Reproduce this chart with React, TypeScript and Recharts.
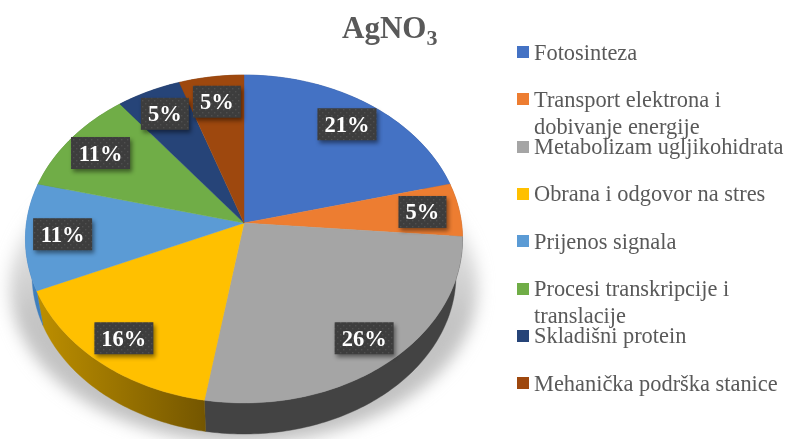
import React from "react";
import { PieChart, Pie, Legend } from "recharts";

const categories = [
  "Fotosinteza",
  "Transport elektrona i dobivanje energije",
  "Metabolizam ugljikohidrata",
  "Obrana i odgovor na stres",
  "Prijenos signala",
  "Procesi transkripcije i translacije",
  "Skladišni protein",
  "Mehanička podrška stanice",
];
const counts = [4, 1, 5, 3, 2, 2, 1, 1];
const faceColors = ["#4472c4", "#ed7d31", "#a5a5a5", "#ffc000", "#5b9bd5", "#70ad47", "#264478", "#9e480e"];
const wallColors = ["#2f528f", "#b25d25", "#434343", "url(#yellowWall)", "#3f7fbd", "#548235", "#1c3359", "#76360a"];

const data = categories.map((name, i) => ({ name, value: counts[i], fill: faceColors[i], wall: wallColors[i] }));
const wallData = data.map((d) => ({ ...d, fill: d.wall }));
const total = counts.reduce((a, b) => a + b, 0);
const shadowData = [{ name: "shadow", value: total, fill: "url(#shadowFill)" }];

const B = 217.5;
const A = 162.4;
const K = 0.0976;
const RAD = Math.PI / 180;
const GREY = "#595959";
const SERIF = "'Liberation Serif', serif";

function rim(cx: number, cy: number, deg: number, f = 1) {
  const u = Math.cos(deg * RAD);
  const v = -Math.sin(deg * RAD);
  const d = 1 - K * v;
  return { x: cx + (B * u * f) / d, y: cy + (A * v * f) / d };
}

function lower(cx: number, cy: number, p: { x: number; y: number }) {
  const ex = cx + 0.5;
  const ey = cy + 16;
  return { x: ex + (p.x - ex) * 0.97, y: ey + (p.y - ey) * 0.97 + 36 };
}

function arc(cx: number, cy: number, start: number, end: number) {
  const n = Math.max(2, Math.ceil(Math.abs(end - start)));
  const pts = [];
  for (let i = 0; i <= n; i++) pts.push(rim(cx, cy, start + ((end - start) * i) / n));
  return pts;
}

const toPath = (pts: { x: number; y: number }[]) =>
  "M" + pts.map((p) => `${p.x.toFixed(2)},${p.y.toFixed(2)}`).join("L") + "Z";

function FaceShape(props: any) {
  const { cx, cy, startAngle, endAngle, fill } = props;
  const pts = [{ x: cx, y: cy }, ...arc(cx, cy, startAngle, endAngle)];
  return <path d={toPath(pts)} fill={fill} stroke={fill} strokeWidth={0.4} />;
}

function WallShape(props: any) {
  const { cx, cy, startAngle, endAngle, fill } = props;
  const top = arc(cx, cy, startAngle, endAngle);
  const bottom = top.map((p) => lower(cx, cy, p)).reverse();
  return <path d={toPath([...top, ...bottom])} fill={fill} stroke={fill} strokeWidth={0.4} />;
}

function ShadowShape(props: any) {
  const { cx, cy, startAngle, endAngle, fill } = props;
  const ex = cx + 0.5;
  const ey = cy + 16;
  const pts = arc(cx, cy, startAngle, endAngle).map((p) => ({
    x: ex + (p.x - ex) * 1.07,
    y: ey + 48 + (p.y - ey) * 0.95,
  }));
  return (
    <g>
      <defs>
        <linearGradient id="yellowWall" x1="0" y1="0" x2="1" y2="0">
          <stop offset="0%" stopColor="#bd8f00" />
          <stop offset="100%" stopColor="#745600" />
        </linearGradient>
        <linearGradient id="shadowFill" x1="0" y1="0" x2="0" y2="1">
          <stop offset="0%" stopColor="#c8c8c8" stopOpacity={0} />
          <stop offset="35%" stopColor="#c8c8c8" stopOpacity={0.55} />
          <stop offset="60%" stopColor="#c4c4c4" stopOpacity={1} />
          <stop offset="100%" stopColor="#c0c0c0" stopOpacity={1} />
        </linearGradient>
        <filter id="soft" x="-10%" y="-10%" width="120%" height="120%">
          <feGaussianBlur stdDeviation="8" />
        </filter>
        <pattern id="dots" width="6" height="6" patternUnits="userSpaceOnUse">
          <rect width="6" height="6" fill="#3d3d3d" />
          <rect x="1" y="1" width="1.4" height="1.4" fill="#4f4f4f" />
          <rect x="4" y="4" width="1.4" height="1.4" fill="#4f4f4f" />
        </pattern>
      </defs>
      <path d={toPath(pts)} fill={fill} filter="url(#soft)" />
    </g>
  );
}

function renderLabel(props: any) {
  const { cx, cy, midAngle, percent } = props;
  const text = `${Math.round(percent * 100)}%`;
  const p = rim(cx, cy, midAngle, 0.83);
  const w = text.length === 3 ? 59 : 48;
  const h = 32;
  return (
    <g>
      <rect
        x={p.x - w / 2}
        y={p.y - h / 2}
        width={w}
        height={h}
        fill="url(#dots)"
        style={{ filter: "drop-shadow(2px 3px 2px rgba(0,0,0,0.45))" }}
      />
      <text
        x={p.x}
        y={p.y + 7.5}
        textAnchor="middle"
        fill="#ffffff"
        fontFamily={SERIF}
        fontWeight={700}
        fontSize={22.5}
      >
        {text}
      </text>
    </g>
  );
}

function LegendContent(props: any) {
  const items = (props.payload || []).filter((p: any) => p.type !== "none");
  return (
    <div style={{ position: "relative", width: 787, height: 439 }}>
      {items.map((it: any, i: number) => (
        <div key={it.value} style={{ position: "absolute", left: 517, top: 38.5 + 47.3 * i, width: 270 }}>
          <span
            style={{ position: "absolute", left: 0, top: 7.5, width: 12, height: 12, background: it.color }}
          />
          <div
            style={{
              marginLeft: 17,
              fontFamily: SERIF,
              fontSize: 22.4,
              lineHeight: "27px",
              color: GREY,
              width: 253,
              whiteSpace: "normal",
            }}
          >
            {it.value}
          </div>
        </div>
      ))}
    </div>
  );
}

const pieCommon = {
  cx: 244,
  cy: 223,
  outerRadius: 100,
  startAngle: 90,
  endAngle: -270,
  dataKey: "value",
  nameKey: "name",
  stroke: "none",
  isAnimationActive: false,
};

export default function App() {
  return (
    <div style={{ position: "absolute", left: 0, top: 0, width: 787, height: 439, overflow: "hidden", filter: "blur(0.45px)" }}>
      <PieChart width={787} height={439} margin={{ top: 0, right: 0, bottom: 0, left: 0 }}>
        <Pie {...pieCommon} data={shadowData} legendType="none" shape={ShadowShape} />
        <Pie {...pieCommon} data={wallData} legendType="none" shape={WallShape} />
        <Pie {...pieCommon} data={data} shape={FaceShape} label={renderLabel} labelLine={false} />
        <Legend
          content={LegendContent}
          itemSorter={null}
          wrapperStyle={{ position: "absolute", left: 0, top: 0, width: 787, height: 439 }}
        />
        <text x={342} y={38} fontFamily={SERIF} fontWeight={700} fontSize={31} fill={GREY}>
          AgNO
          <tspan fontSize={22} dy={7}>
            3
          </tspan>
        </text>
      </PieChart>
    </div>
  );
}
